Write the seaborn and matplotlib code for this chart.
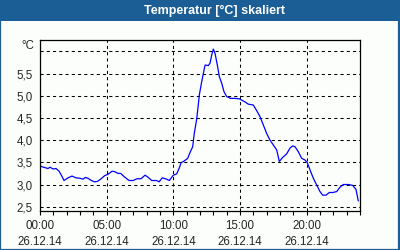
import matplotlib
matplotlib.use("Agg")
import matplotlib.pyplot as plt
import seaborn as sns
import pandas as pd
from matplotlib.patches import Rectangle
from matplotlib.ticker import MultipleLocator

# --- data (hours since 00:00 on 26.12.14, temperature in °C) ---
hours = [0.0, 0.15, 0.6, 0.75, 0.98, 1.2, 1.43, 1.6, 1.8, 2.1, 2.4, 2.7, 3.0, 3.23,
         3.4, 3.6, 3.85, 4.1, 4.3, 4.55, 4.85, 5.1, 5.4, 5.6, 5.85, 6.05, 6.3, 6.55,
         6.68, 6.98, 7.28, 7.58, 7.88, 8.12, 8.38, 8.75, 8.93, 9.17, 9.5, 9.7, 10.0,
         10.25, 10.43, 10.58, 10.82, 11.08, 11.25, 11.45, 11.57, 11.75, 11.87, 11.95,
         12.13, 12.25, 12.38, 12.62, 12.75, 12.88, 13.0, 13.13, 13.3, 13.45, 13.63,
         13.8, 14.0, 14.3, 14.63, 14.95, 15.13, 15.38, 15.62, 16.0, 16.2, 16.5, 16.75,
         17.0, 17.25, 17.5, 17.75, 17.95, 18.2, 18.5, 18.75, 18.95, 19.13, 19.37,
         19.63, 19.88, 20.05, 20.25, 20.5, 20.75, 21.0, 21.2, 21.45, 21.7, 21.95,
         22.25, 22.5, 22.75, 23.13, 23.45, 23.7, 23.87]
temps = [3.42, 3.40, 3.36, 3.39, 3.35, 3.36, 3.30, 3.21, 3.09, 3.15, 3.19, 3.15, 3.14, 3.12,
         3.16, 3.14, 3.09, 3.06, 3.07, 3.12, 3.20, 3.23, 3.30, 3.29, 3.25, 3.25, 3.18, 3.12,
         3.09, 3.09, 3.13, 3.13, 3.21, 3.16, 3.09, 3.09, 3.06, 3.15, 3.12, 3.09, 3.21,
         3.24, 3.36, 3.49, 3.53, 3.59, 3.72, 3.85, 4.15, 4.47, 4.79, 5.02,
         5.32, 5.50, 5.69, 5.68, 5.73, 5.92, 6.05, 5.95, 5.69, 5.43, 5.28,
         5.09, 4.98, 4.94, 4.94, 4.93, 4.90, 4.86, 4.81, 4.79, 4.69, 4.53, 4.34,
         4.15, 4.00, 3.89, 3.78, 3.52, 3.61, 3.69, 3.82, 3.87, 3.85, 3.74,
         3.59, 3.55, 3.49, 3.33, 3.14, 2.99, 2.84, 2.76, 2.76, 2.82, 2.82,
         2.84, 2.94, 3.00, 3.00, 2.98, 2.89, 2.63]

x_ticks = [0, 5, 10, 15, 20]
x_labels = ["00:00\n26.12.14", "05:00\n26.12.14", "10:00\n26.12.14",
            "15:00\n26.12.14", "20:00\n26.12.14"]
y_ticks = [2.5, 3.0, 3.5, 4.0, 4.5, 5.0, 5.5, 6.0]
y_labels = ["2,5", "3,0", "3,5", "4,0", "4,5", "5,0", "5,5", ""]
title = "Temperatur [°C] skaliert"
unit = "°C"

sns.set_style("white")
plt.rcParams["font.family"] = ["Liberation Sans", "DejaVu Sans"]

BG = "#fbfefb"
BLUE = "#1b5e96"

fig = plt.figure(figsize=(4, 2.5), dpi=100, facecolor=BG)
ax = fig.add_axes([40 / 400, 1 - 210.7 / 250, 320 / 400, (210.7 - 40) / 250])
ax.set_facecolor(BG)

df = pd.DataFrame({"h": hours, "t": temps})
sns.lineplot(data=df, x="h", y="t", ax=ax, color="#0000ff", linewidth=0.9)

ax.set_xlim(0, 24)
ax.set_ylim(2.41, 6.255)
ax.set_xlabel("")
ax.set_ylabel("")

ax.set_xticks(x_ticks)
ax.set_xticklabels(x_labels, fontsize=8.3, linespacing=1.45)
ax.xaxis.set_minor_locator(MultipleLocator(1))
ax.tick_params(axis="x", which="both", direction="out", length=3, width=0.8,
               color="black", pad=4, bottom=True)
ax.set_yticks(y_ticks)
ax.set_yticklabels(y_labels, fontsize=8.3)
ax.tick_params(axis="y", length=0, pad=5)

ax.grid(True, which="major", color="black", linestyle=(0, (3, 3)), linewidth=0.75)
for s in ax.spines.values():
    s.set_color("black")
    s.set_linewidth(0.9)

ax.text(-0.45, 6.13, unit, ha="right", va="center", fontsize=8.3,
        transform=ax.transData, clip_on=False)

# title bar and frame
fig.patches.append(Rectangle((0, 1 - 20.5 / 250), 1, 20.5 / 250, transform=fig.transFigure,
                             facecolor=BLUE, edgecolor="none", zorder=0))
fig.patches.append(Rectangle((0.001, 0.002), 0.997, 0.996, transform=fig.transFigure,
                             facecolor="none", edgecolor=BLUE, linewidth=1.6, zorder=5))
fig.text(214.5 / 400, 1 - 10.5 / 250, title, ha="center", va="center", color="white",
         fontsize=9, fontweight="bold")

fig.savefig("out.png", dpi=100, facecolor=BG)
